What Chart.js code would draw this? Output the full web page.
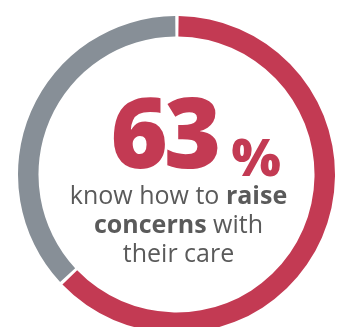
<!DOCTYPE html>
<html>
<head>
<meta charset="utf-8">
<script src="https://cdn.jsdelivr.net/npm/chart.js@4"></script>
<style>
  html, body { margin: 0; padding: 0; background: #ffffff; overflow: hidden; }
  canvas { display: block; }
</style>
</head>
<body>
<canvas id="ring" width="338" height="340"></canvas>
<script>
// Share of people who know how to raise concerns with their care
const categories = ['Know how to raise concerns', 'Do not know'];
const shares = [63, 37];
const colours = ['#C33A53', '#878F97'];

const headline = shares[0] + '';
const captionLines = [
  [{ t: 'know how to ', b: false }, { t: 'raise', b: true }],
  [{ t: 'concerns', b: true }, { t: ' with', b: false }],
  [{ t: 'their care', b: false }]
];

const FONT = '"Open Sans", "Noto Sans", sans-serif';

const centreText = {
  id: 'centreText',
  afterDraw(chart) {
    const ctx = chart.ctx;
    const arc = chart.getDatasetMeta(0).data[0];
    const cx = arc.x, cy = arc.y;
    ctx.save();
    ctx.textBaseline = 'alphabetic';

    // big percentage figure, tightly tracked
    ctx.fillStyle = colours[0];
    ctx.font = '800 98px ' + FONT;
    ctx.letterSpacing = '-4px';
    ctx.textAlign = 'left';
    const numX = cx - 66;
    ctx.fillText(headline, numX, cy - 7);
    ctx.letterSpacing = '0px';
    ctx.font = '800 52px ' + FONT;
    ctx.fillText('%', cx + 55, cy + 1);

    // caption, centred line by line
    ctx.fillStyle = '#5A5A5A';
    const baselines = [cy + 29.5, cy + 58.5, cy + 87.5];
    captionLines.forEach((parts, i) => {
      let total = 0;
      parts.forEach(p => {
        ctx.font = (p.b ? 'bold ' : '') + '25px ' + FONT;
        p.w = ctx.measureText(p.t).width;
        total += p.w;
      });
      let x = cx + 2 - total / 2;
      parts.forEach(p => {
        ctx.font = (p.b ? 'bold ' : '') + '25px ' + FONT;
        ctx.fillText(p.t, x, baselines[i]);
        x += p.w;
      });
    });
    ctx.restore();
  }
};

new Chart(document.getElementById('ring'), {
  type: 'doughnut',
  data: {
    labels: categories,
    datasets: [{
      data: shares,
      backgroundColor: colours,
      borderWidth: 0,
      spacing: 2
    }]
  },
  options: {
    responsive: false,
    animation: false,
    cutout: '87%',
    rotation: 0,
    layout: { padding: { left: 18, right: 3, top: 16, bottom: 7 } },
    plugins: {
      legend: { display: false },
      tooltip: { enabled: false }
    }
  },
  plugins: [centreText]
});
</script>
</body>
</html>
